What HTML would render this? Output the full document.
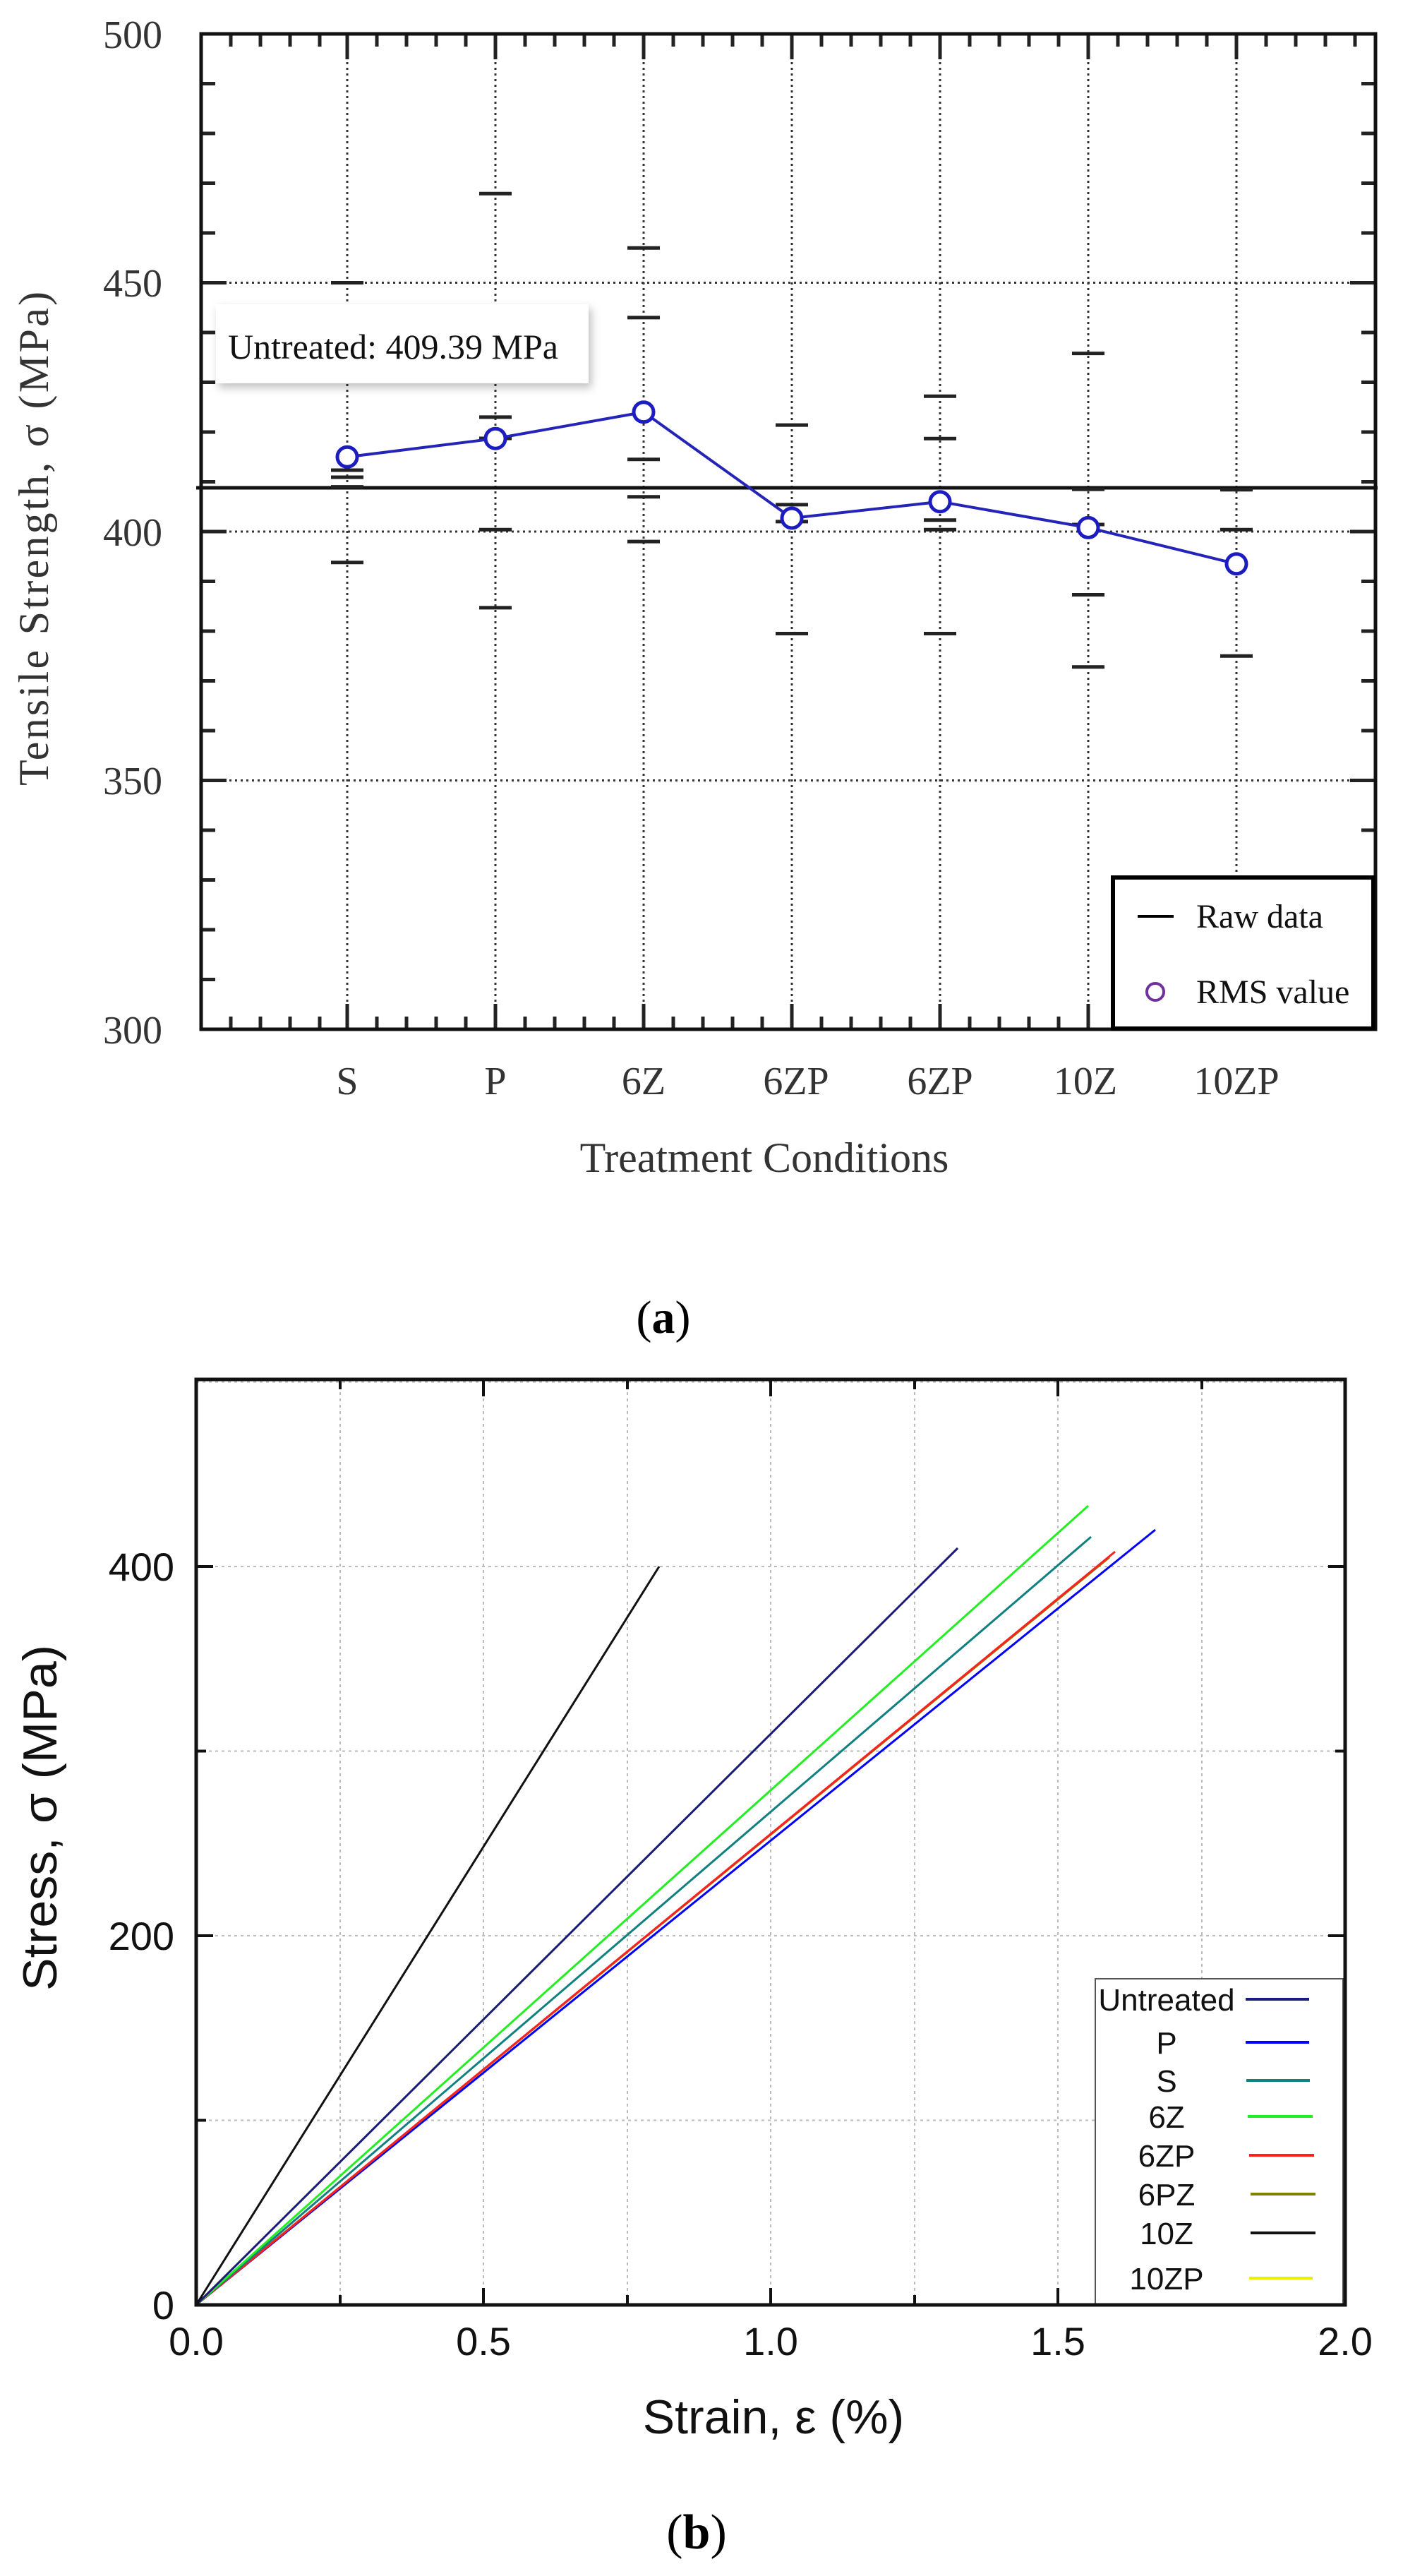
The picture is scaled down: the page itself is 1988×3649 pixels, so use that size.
<!DOCTYPE html>
<html><head><meta charset="utf-8"><style>
html,body{margin:0;padding:0;background:#fff;}
svg{display:block;}
</style></head><body>
<svg width="1988" height="3649" viewBox="0 0 1988 3649" xmlns="http://www.w3.org/2000/svg">
<defs><filter id="sh" x="-10%" y="-10%" width="130%" height="140%"><feDropShadow dx="4" dy="6" stdDeviation="6" flood-color="#000" flood-opacity="0.25"/></filter></defs>
<rect width="1988" height="3649" fill="#fff"/>
<!-- ===== TOP PLOT ===== -->
<g stroke="#333" stroke-width="3" stroke-dasharray="3,5">
<line x1="492" y1="48" x2="492" y2="1458"/><line x1="702" y1="48" x2="702" y2="1458"/><line x1="912" y1="48" x2="912" y2="1458"/><line x1="1122" y1="48" x2="1122" y2="1458"/><line x1="1332" y1="48" x2="1332" y2="1458"/><line x1="1542" y1="48" x2="1542" y2="1458"/><line x1="1752" y1="48" x2="1752" y2="1458"/>
<line x1="285" y1="400.5" x2="1949" y2="400.5"/><line x1="285" y1="753" x2="1949" y2="753"/><line x1="285" y1="1105.5" x2="1949" y2="1105.5"/>
</g>
<g stroke="#222" stroke-width="5">
<path d="M327 48v18M369 48v18M411 48v18M453 48v18M492 48v36M534 48v18M576 48v18M618 48v18M660 48v18M702 48v36M744 48v18M786 48v18M828 48v18M870 48v18M912 48v36M954 48v18M996 48v18M1038 48v18M1080 48v18M1122 48v36M1164 48v18M1206 48v18M1248 48v18M1290 48v18M1332 48v36M1374 48v18M1416 48v18M1458 48v18M1500 48v18M1542 48v36M1584 48v18M1626 48v18M1668 48v18M1710 48v18M1752 48v36M1794 48v18M1836 48v18M1878 48v18M1920 48v18"/>
<path d="M327 1458v-18M369 1458v-18M411 1458v-18M453 1458v-18M492 1458v-36M534 1458v-18M576 1458v-18M618 1458v-18M660 1458v-18M702 1458v-36M744 1458v-18M786 1458v-18M828 1458v-18M870 1458v-18M912 1458v-36M954 1458v-18M996 1458v-18M1038 1458v-18M1080 1458v-18M1122 1458v-36M1164 1458v-18M1206 1458v-18M1248 1458v-18M1290 1458v-18M1332 1458v-36M1374 1458v-18M1416 1458v-18M1458 1458v-18M1500 1458v-18M1542 1458v-36"/>
<path d="M285 118.5h20M285 189h20M285 259.5h20M285 330h20M285 400.5h36M285 471h20M285 541.5h20M285 612h20M285 682.5h20M285 753h36M285 823.5h20M285 894h20M285 964.5h20M285 1035h20M285 1105.5h36M285 1176h20M285 1246.5h20M285 1317h20M285 1387.5h20"/>
<path d="M1949 118.5h-20M1949 189h-20M1949 259.5h-20M1949 330h-20M1949 400.5h-36M1949 471h-20M1949 541.5h-20M1949 612h-20M1949 682.5h-20M1949 753h-36M1949 823.5h-20M1949 894h-20M1949 964.5h-20M1949 1035h-20M1949 1105.5h-36M1949 1176h-20"/>
</g>
<rect x="285" y="48" width="1664" height="1410" fill="none" stroke="#111" stroke-width="5"/>
<line x1="278" y1="691" x2="1952" y2="691" stroke="#111" stroke-width="5"/>
<g stroke="#222" stroke-width="5">
<path d="M469 400.5h46M469 666h46M469 676h46M469 689.6h46M469 796.7h46"/>
<path d="M679 274.3h46M679 590.9h46M679 621h46M679 750.2h46M679 860.9h46"/>
<path d="M889 351.2h46M889 449.9h46M889 650.8h46M889 703.7h46M889 767.1h46"/>
<path d="M1099 602.1h46M1099 714.9h46M1099 738.9h46M1099 897.5h46"/>
<path d="M1309 561.2h46M1309 621.2h46M1309 736.8h46M1309 750.2h46M1309 897.5h46"/>
<path d="M1519 500.6h46M1519 693.1h46M1519 743h46M1519 842.5h46M1519 944.8h46"/>
<path d="M1729 693.8h46M1729 750.2h46M1729 929.3h46"/>
</g>
<polyline points="492,647.3 702,621.2 912,583.8 1122,734 1332,710.7 1542,747.4 1752,798.8" fill="none" stroke="#2424b8" stroke-width="4"/>
<g fill="#fff" stroke="#1c1cc0" stroke-width="5">
<circle cx="492" cy="647.3" r="14"/><circle cx="702" cy="621.2" r="14"/><circle cx="912" cy="583.8" r="14"/><circle cx="1122" cy="734" r="14"/><circle cx="1332" cy="710.7" r="14"/><circle cx="1542" cy="747.4" r="14"/><circle cx="1752" cy="798.8" r="14"/>
</g>
<rect x="306" y="431" width="528" height="112" fill="#fff" filter="url(#sh)"/>
<text x="323" y="508" font-family="Liberation Serif, serif" font-size="50" fill="#111">Untreated: 409.39 MPa</text>
<rect x="1577" y="1243" width="369" height="214" fill="#fff" stroke="#000" stroke-width="6"/>
<line x1="1612" y1="1298" x2="1663" y2="1298" stroke="#000" stroke-width="4"/>
<text x="1695" y="1314" font-family="Liberation Serif, serif" font-size="48" fill="#111">Raw data</text>
<circle cx="1637" cy="1405" r="12" fill="none" stroke="#7030a0" stroke-width="4"/>
<text x="1695" y="1421" font-family="Liberation Serif, serif" font-size="48" fill="#111">RMS value</text>
<g font-family="Liberation Serif, serif" font-size="56" fill="#333" text-anchor="end">
<text x="230" y="68">500</text><text x="230" y="420">450</text><text x="230" y="773">400</text><text x="230" y="1125">350</text><text x="230" y="1478">300</text>
</g>
<g font-family="Liberation Serif, serif" font-size="56" fill="#333" text-anchor="middle">
<text x="492" y="1550">S</text><text x="702" y="1550">P</text><text x="912" y="1550">6Z</text><text x="1128" y="1550">6ZP</text><text x="1332" y="1550">6ZP</text><text x="1538" y="1550">10Z</text><text x="1752" y="1550">10ZP</text>
<text x="1083" y="1660" font-size="60">Treatment Conditions</text>
<text transform="translate(68,763) rotate(-90)" font-size="60" textLength="700" lengthAdjust="spacing">Tensile Strength, σ  (MPa)</text>
</g>
<text x="940" y="1888" font-family="Liberation Serif, serif" font-size="66" text-anchor="middle" fill="#000">(<tspan font-weight="bold">a</tspan>)</text>

<!-- ===== BOTTOM PLOT ===== -->
<g stroke="#bbb" stroke-width="2" stroke-dasharray="4,5">
<path d="M482 1954V3265M685 1954V3265M889 1954V3265M1092 1954V3265M1296 1954V3265M1499 1954V3265M1703 1954V3265"/>
<path d="M278 3003.5H1906M278 2742H1906M278 2480.5H1906M278 2219H1906M278 1957.5H1906"/>
</g>
<g stroke="#111" stroke-width="4">
<path d="M482 3265v-14M685 3265v-24M889 3265v-14M1092 3265v-24M1296 3265v-14M1499 3265v-24M1703 3265v-14"/>
<path d="M482 1954v14M685 1954v24M889 1954v14M1092 1954v24M1296 1954v14M1499 1954v24M1703 1954v14"/>
<path d="M278 3003.5h14M278 2742h24M278 2480.5h14M278 2219h24"/>
<path d="M1906 2742h-24M1906 2480.5h-14M1906 2219h-24"/>
</g>
<g fill="none" stroke-width="3">
<line x1="278" y1="3265" x2="1637" y2="2167" stroke="#0000ff"/>
<line x1="278" y1="3265" x2="1572" y2="2206" stroke="#808000"/>
<line x1="278" y1="3265" x2="1580" y2="2198" stroke="#ff2020"/>
<line x1="278" y1="3265" x2="1546" y2="2177" stroke="#108080"/>
<line x1="278" y1="3265" x2="1542" y2="2133" stroke="#22ee22"/>
<line x1="278" y1="3265" x2="1336" y2="2214" stroke="#eeee00"/>
<line x1="278" y1="3265" x2="1357" y2="2193" stroke="#1a1a80"/>
<line x1="278" y1="3265" x2="934" y2="2219" stroke="#111"/>
</g>
<rect x="1552" y="2803" width="351" height="462" fill="#fff" stroke="#555" stroke-width="2"/>
<rect x="278" y="1954" width="1628" height="1311" fill="none" stroke="#111" stroke-width="5"/>
<g font-family="Liberation Sans, sans-serif" font-size="44" fill="#111" text-anchor="middle">
<text x="1653" y="2848">Untreated</text><text x="1653" y="2909">P</text><text x="1653" y="2963">S</text><text x="1653" y="3014">6Z</text><text x="1653" y="3069">6ZP</text><text x="1653" y="3124">6PZ</text><text x="1653" y="3179">10Z</text><text x="1653" y="3243">10ZP</text>
</g>
<g stroke-width="4">
<line x1="1765" y1="2832" x2="1855" y2="2832" stroke="#1a1a80"/>
<line x1="1765" y1="2893" x2="1855" y2="2893" stroke="#0000ff"/>
<line x1="1766" y1="2947" x2="1856" y2="2947" stroke="#108080"/>
<line x1="1768" y1="2998" x2="1860" y2="2998" stroke="#22ee22"/>
<line x1="1770" y1="3053" x2="1862" y2="3053" stroke="#ff2020"/>
<line x1="1772" y1="3108" x2="1864" y2="3108" stroke="#808000"/>
<line x1="1772" y1="3163" x2="1864" y2="3163" stroke="#111"/>
<line x1="1770" y1="3227" x2="1860" y2="3227" stroke="#eeee00"/>
</g>
<g font-family="Liberation Sans, sans-serif" font-size="56" fill="#111">
<g text-anchor="end"><text x="247" y="3285">0</text><text x="247" y="2762">200</text><text x="247" y="2239">400</text></g>
<g text-anchor="middle"><text x="278" y="3336">0.0</text><text x="685" y="3336">0.5</text><text x="1092" y="3336">1.0</text><text x="1499" y="3336">1.5</text><text x="1906" y="3336">2.0</text>
<text x="1096" y="3447" font-size="68">Strain, ε (%)</text>
<text transform="translate(80,2575) rotate(-90)" font-size="68" textLength="490" lengthAdjust="spacingAndGlyphs">Stress, σ (MPa)</text></g>
</g>
<text x="987" y="3610" font-family="Liberation Serif, serif" font-size="70" text-anchor="middle" fill="#000">(<tspan font-weight="bold">b</tspan>)</text>
</svg>
</body></html>
